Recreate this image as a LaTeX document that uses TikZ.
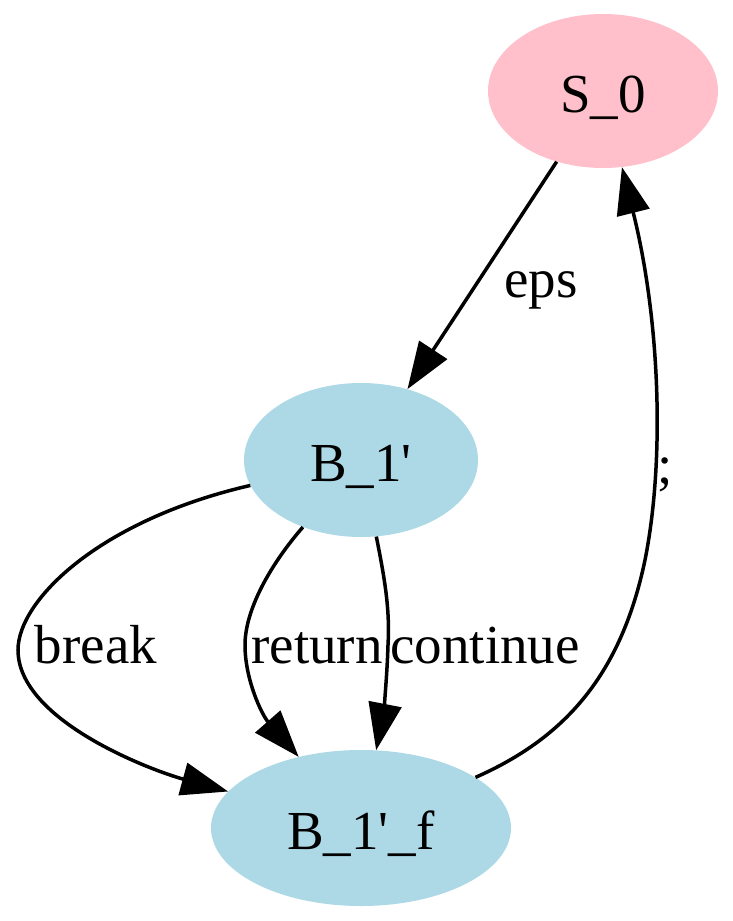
\documentclass[tikz,border=0pt]{standalone}
\usepackage{fontspec}
\setmainfont{Liberation Serif}[Ligatures=TeXOff]
\usetikzlibrary{shapes.geometric,arrows.meta}
\definecolor{gvpink}{HTML}{FFC0CB}
\definecolor{gvblue}{HTML}{ADD8E6}
\begin{document}
\begin{tikzpicture}[x=1pt,y=-1pt,
  state/.style={ellipse,draw=none,inner sep=0pt,text height=42pt,text depth=0pt,font=\fontsize{55}{60}\selectfont},
  elabel/.style={anchor=base,inner sep=0pt,font=\fontsize{55}{60}\selectfont},
  edge/.style={line width=3.5pt,-{Triangle[length=47pt,width=33pt]}}]
\useasboundingbox (0,0) rectangle (733,921);
\node[state,fill=gvpink,minimum width=230pt,minimum height=154pt] (s0) at (603,91) {S\_0};
\node[state,fill=gvblue,minimum width=234pt,minimum height=154pt] (b1) at (361,460) {B\_1'};
\node[state,fill=gvblue,minimum width=300pt,minimum height=156pt] (b1f) at (361,828) {B\_1'\_f};
\draw[edge] (s0) -- (b1);
\node[elabel] (leps) at (541,297) {eps};
\draw[edge] (b1) .. controls (100,520) and (18,600) .. (18,650) .. controls (18,720) and (150,770) .. (b1f);
\node[elabel] (lbreak) at (96,663) {break};
\draw[edge] (b1) .. controls (270,565) and (245,610) .. (245,645) .. controls (245,680) and (262,715) .. (b1f);
\node[elabel] (lreturn) at (317,663) {return};
\draw[edge] (b1) .. controls (385,580) and (390,610) .. (388,645) .. controls (387,680) and (383,715) .. (b1f);
\node[elabel] (lcont) at (485,663) {continue};
\draw[edge] (b1f) .. controls (560,740) and (620,680) .. (645,560) .. controls (665,460) and (660,320) .. (s0);
\node[elabel] (lsemi) at (665,483) {;};
\end{tikzpicture}
\end{document}
